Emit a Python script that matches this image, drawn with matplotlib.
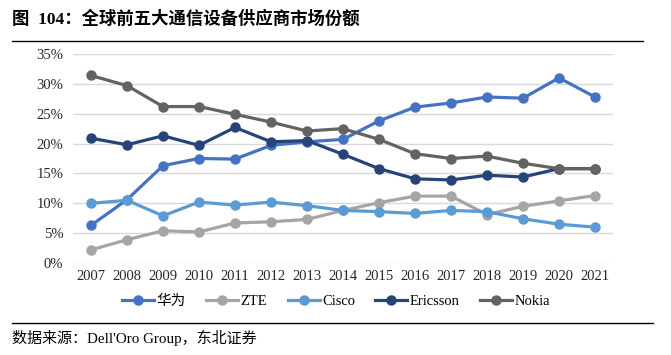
import matplotlib
matplotlib.use("Agg")
import matplotlib.pyplot as plt
from matplotlib.lines import Line2D
from matplotlib.ticker import FuncFormatter

# ------------------------------------ data

years = list(range(2007, 2022))

huawei = [6.3, 10.6, 16.3, 17.5, 17.4, 19.7, 20.3, 20.7, 23.8, 26.1,
          26.8, 27.8, 27.6, 31.0, 27.8]
zte = [2.2, 3.9, 5.4, 5.2, 6.7, 6.9, 7.3, 8.8, 10.1, 11.2,
       11.2, 8.1, 9.5, 10.4, 11.3]
cisco = [10.0, 10.5, 7.9, 10.2, 9.7, 10.2, 9.6, 8.8, 8.6, 8.3,
         8.8, 8.6, 7.4, 6.5, 6.0]
ericsson = [20.9, 19.8, 21.3, 19.7, 22.7, 20.3, 20.5, 18.2, 15.8, 14.1,
            13.9, 14.7, 14.4, 15.8, 15.8]
nokia = [31.4, 29.7, 26.2, 26.2, 24.9, 23.6, 22.1, 22.5, 20.7, 18.3,
         17.5, 17.9, 16.7, 15.8, 15.8]

names = ["华为", "ZTE", "Cisco", "Ericsson", "Nokia"]
colors = ["#4472C4", "#A5A5A5", "#5B9BD5", "#264478", "#636363"]

SERIF = ["Liberation Serif", "Noto Sans CJK SC"]

# ------------------------------------ figure

fig = plt.figure(figsize=(6.71, 3.55), dpi=100)
W, H = 671, 355
ax = fig.add_axes([73 / W, 1 - 263 / H, 540 / W, 209 / H])

series = [huawei, zte, cisco, ericsson, nokia]
for vals, col in zip(series, colors):
    ax.plot(years, vals, color=col, lw=2.3, marker="o", ms=6.5,
            solid_capstyle="round", zorder=3)

ax.set_xlim(2006.5, 2021.5)
ax.set_ylim(0, 35)
ax.set_xticks(years)
ax.set_yticks(range(0, 36, 5))
ax.yaxis.set_major_formatter(FuncFormatter(lambda v, p: "%d%%" % v))
ax.grid(axis="y", color="#D9D9D9", lw=1.0)
ax.set_axisbelow(True)
for s in ax.spines.values():
    s.set_visible(False)
ax.tick_params(length=0, labelsize=10.5, pad=5)
for lab in ax.get_xticklabels() + ax.get_yticklabels():
    lab.set_fontfamily(SERIF)
    lab.set_color("#262626")
ax.tick_params(axis="y", pad=7)

handles = [Line2D([], [], color=c, lw=2.3, marker="o", ms=6.5)
           for c in colors]
leg = fig.legend(handles, names, loc="center", ncol=5,
                 bbox_to_anchor=(336 / W, 1 - 301 / H), frameon=False,
                 handlelength=2.2, handletextpad=0.15, columnspacing=1.4,
                 prop={"family": SERIF, "size": 10.5})

# ------------------------------------ title, rules and source

fig.text(12 / W, 1 - 19 / H, "图  104：全球前五大通信设备供应商市场份额",
         fontsize=12.5, fontweight="bold", family=SERIF, va="center",
         ha="left")

fig.add_artist(Line2D([12 / W, 643 / W], [1 - 41 / H, 1 - 41 / H],
                      color="black", lw=1.0))
fig.add_artist(Line2D([12 / W, 653 / W], [1 - 323 / H, 1 - 323 / H],
                      color="black", lw=1.0))

fig.text(12 / W, 1 - 338 / H, "数据来源：Dell'Oro Group，东北证券",
         fontsize=10.8, family=SERIF, va="center", ha="left")

fig.savefig("out.png", dpi=100)
